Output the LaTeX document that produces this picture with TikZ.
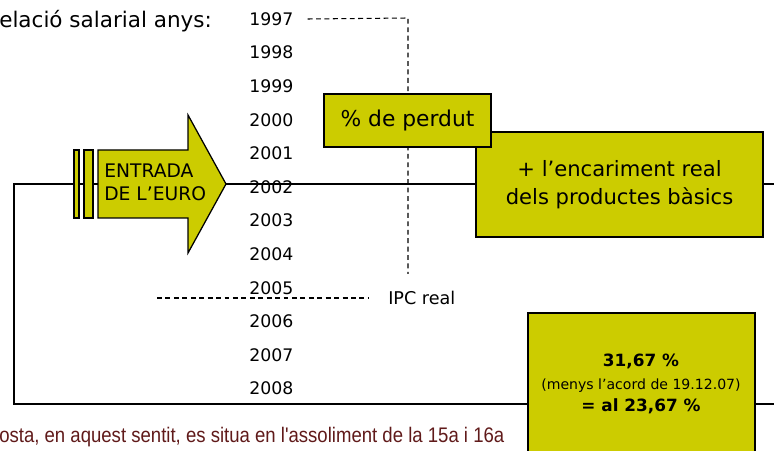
\documentclass[tikz,border=0pt]{standalone}
\usepackage{fontspec}
\setmainfont{DejaVu Sans}
\newfontfamily\narrowfont[FakeStretch=0.88]{Liberation Sans}
\usetikzlibrary{calc, positioning}

\definecolor{olive}{RGB}{204,204,0}
\definecolor{darkred}{RGB}{96,26,26}

\begin{document}
\begin{tikzpicture}[
    x=0.025cm, y=-0.025cm,
    thin,
    yellowbox/.style={draw, fill=olive, line width=0.9pt, inner sep=0pt, outer sep=0pt},
    year/.style={font=\fontsize{12.3}{13}\selectfont, inner sep=0pt, anchor=west},
    guide/.style={dashed, dash pattern=on 3.5pt off 2.5pt, line width=0.75pt}
]
    \useasboundingbox (0,0) rectangle (774,451);

    % Loop line behind everything
    \coordinate (loopR) at (774,184);
    \coordinate (loopTL) at (14,184);
    \coordinate (loopBL) at (14,404);
    \coordinate (loopBR) at (774,404);
    \draw[line width=0.9pt] (loopR) -- (loopTL) -- (loopBL) -- (loopBR);

    % Title
    \node[anchor=west, inner sep=0pt, font=\fontsize{15.3}{16}\selectfont] (title) at (-1,21) {elació salarial anys:};

    % Years
    \foreach \yr [count=\i from 0] in {1997,1998,...,2008} {
        \node[year] (y\yr) at (249,{19+33.6*\i}) {\yr};
    }

    % Dashed guides (IPC real)
    \coordinate (topR) at (408,18);
    \coordinate (botV) at (408,274);
    \draw[guide] ($(y1997.east)+(14,0)$) -- (topR) -- (botV);
    \node[anchor=west, inner sep=0pt, font=\fontsize{12.5}{13}\selectfont] (ipc) at (388,298) {IPC real};
    \draw[guide] (157,298) -- ($(ipc.west)+(-19,0)$);

    % Euro arrow
    \draw[yellowbox] (74,150) rectangle (79,218);
    \draw[yellowbox] (84,150) rectangle (93,218);
    \draw[yellowbox] (98,150) -- (188,150) -- (188,115) -- (226,184)
        -- (188,253) -- (188,218) -- (98,218) -- cycle;
    \node[anchor=west, align=left, inner sep=0pt, font=\fontsize{13.3}{16.3}\selectfont] (euro) at (104,182) {ENTRADA\\DE L'EURO};

    % Boxes
    \node[yellowbox, minimum width=7.175cm, minimum height=2.625cm, align=center,
        font=\fontsize{15}{19.5}\selectfont] (basics) at (619.5,184.5) {+ l'encariment real\\dels productes bàsics};
    \node[yellowbox, minimum width=4.175cm, minimum height=1.325cm,
        font=\fontsize{15.5}{16}\selectfont] (perdut) at (407.5,120.5) {\% de perdut};
    \node[yellowbox, minimum width=5.675cm, minimum height=3.6cm, anchor=north west] (acord) at (528,313) {};
    \node[align=center, inner sep=0pt, font=\fontsize{12}{16}\selectfont] (acordtxt) at (641,384)
        {{\bfseries 31,67 \%}\\
         {\fontsize{10}{16}\selectfont (menys l'acord de 19.12.07)}\\
         {\bfseries = al 23,67 \%}};

    % Bottom text
    \node[anchor=west, inner sep=0pt, text=darkred, font=\narrowfont\fontsize{15}{16}\selectfont] (footer) at (-1,437)
        {osta, en aquest sentit, es situa en l'assoliment de la 15a i 16a};
\end{tikzpicture}
\end{document}
